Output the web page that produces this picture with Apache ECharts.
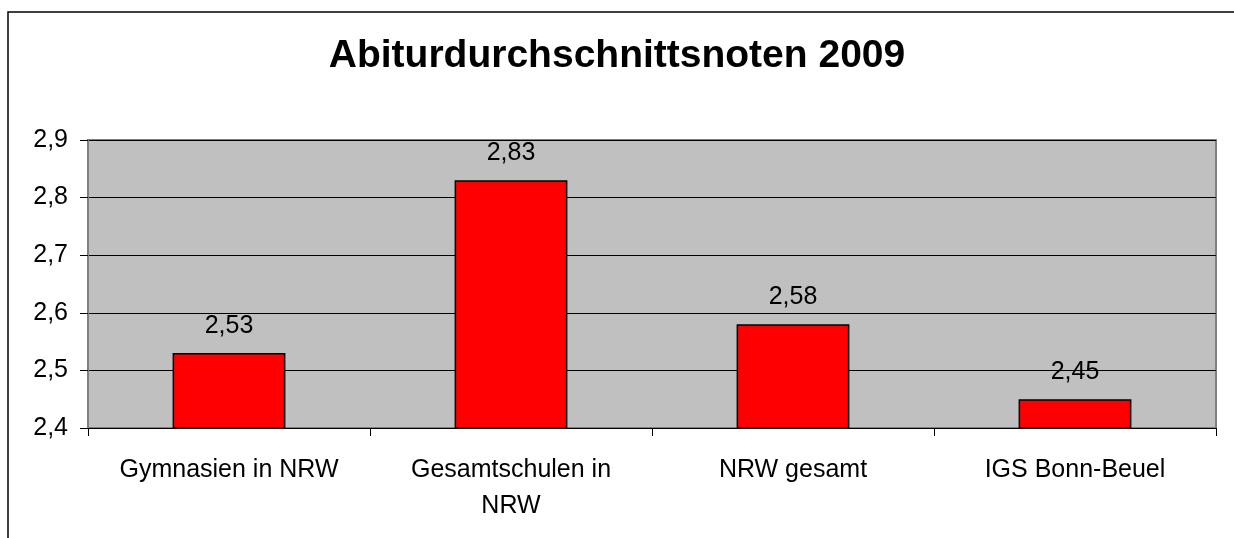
<!DOCTYPE html>
<html>
<head>
<meta charset="utf-8">
<script src="https://cdn.jsdelivr.net/npm/echarts@6/dist/echarts.min.js"></script>
<style>
    html, body { margin: 0; padding: 0; background: #fff; }
    #chart { width: 1234px; height: 538px; }
</style>
</head>
<body>
<div id="chart"></div>
<script>
var categories = ['Gymnasien in NRW', 'Gesamtschulen in\nNRW', 'NRW gesamt', 'IGS Bonn-Beuel'];
var noten = [2.53, 2.83, 2.58, 2.45];
var yTicks = [2.4, 2.5, 2.6, 2.7, 2.8, 2.9];

var chart = echarts.init(document.getElementById('chart'));
var font = 'Arial, "Liberation Sans", sans-serif';

chart.setOption({
    animation: false,
    title: {
        text: 'Abiturdurchschnittsnoten 2009',
        left: 'center',
        top: 32,
        textStyle: { fontFamily: font, fontSize: 39, fontWeight: 'bold', color: '#000' }
    },
    graphic: [{
        type: 'rect',
        shape: { x: 8, y: 12, width: 1240, height: 560 },
        style: { fill: 'none', stroke: '#000', lineWidth: 1.5 },
        z: 0
    }],
    grid: {
        left: 88, top: 140, width: 1128, height: 288,
        show: true,
        backgroundColor: '#c0c0c0',
        borderColor: '#808080',
        borderWidth: 2
    },
    xAxis: {
        type: 'category',
        data: categories,
        axisLine: { lineStyle: { color: '#000', width: 1 } },
        axisTick: { show: true, interval: 0, length: 8, lineStyle: { color: '#000' } },
        axisLabel: {
            interval: 0, hideOverlap: false,
            fontFamily: font, fontSize: 25, color: '#000', margin: 24, lineHeight: 36
        }
    },
    yAxis: {
        type: 'value',
        min: yTicks[0],
        max: yTicks[yTicks.length - 1],
        interval: 0.1,
        axisLine: { show: true, lineStyle: { color: '#808080', width: 1 } },
        axisTick: { show: true, length: 8, lineStyle: { color: '#000' } },
        splitLine: { lineStyle: { color: '#000', width: 1 } },
        axisLabel: {
            fontFamily: font, fontSize: 25, color: '#000', margin: 20,
            formatter: function (v) { return v.toFixed(1).replace('.', ','); }
        }
    },
    series: [{
        type: 'bar',
        data: noten,
        barWidth: '40%',
        itemStyle: { color: '#ff0000', borderColor: '#000', borderWidth: 1.5 },
        label: {
            show: true,
            position: 'top',
            distance: 15,
            fontFamily: font, fontSize: 25, color: '#000',
            formatter: function (p) { return p.value.toFixed(2).replace('.', ','); }
        }
    }]
});
</script>
</body>
</html>
